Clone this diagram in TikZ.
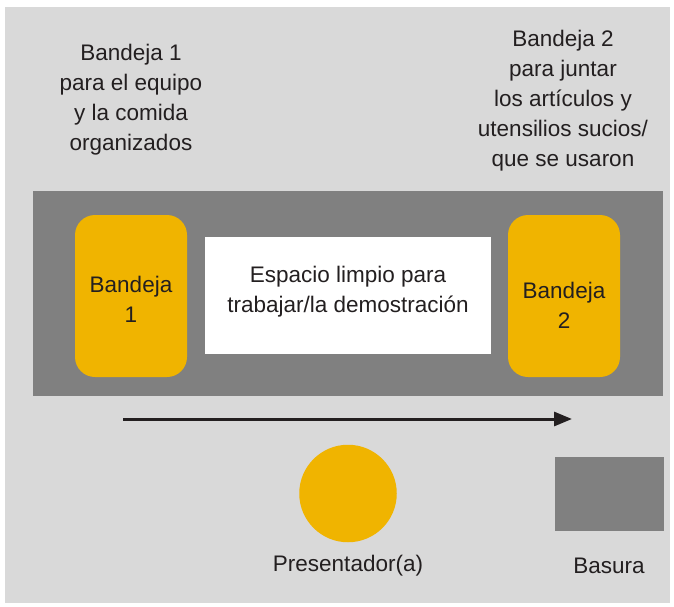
\documentclass[tikz,border=0pt]{standalone}
\usepackage{fontspec}
\setmainfont{Liberation Sans}
\usetikzlibrary{arrows.meta}
\definecolor{bglight}{HTML}{D9D9D9}
\definecolor{banddark}{HTML}{808080}
\definecolor{trayyellow}{HTML}{F0B400}
\definecolor{inktext}{HTML}{231F20}
\tikzset{
  txt/.style={text=inktext, align=center, inner sep=0pt, font=\fontsize{22.5}{30}\selectfont},
  tray/.style={fill=trayyellow, draw=none, rounded corners=20pt, minimum width=112pt, minimum height=162pt, inner sep=0pt},
  flowarrow/.style={draw=inktext, line width=3pt, -{Triangle[length=18pt,width=14pt]}}
}
\begin{document}
\begin{tikzpicture}[x=1pt,y=-1pt]
\useasboundingbox (0,0) rectangle (674,607);
\fill[white] (0,0) rectangle (674,607);
\fill[bglight] (4.5,7) rectangle (670,603);
\fill[banddark] (33,191) rectangle (663,396);
\node[tray] (tray1) at (131,296) {};
\node[tray] (tray2) at (564,296) {};
\node[fill=white, minimum width=286pt, minimum height=117pt, inner sep=0pt] (work) at (348,295.5) {};
\node[txt] (tray1txt) at (131,299) {Bandeja\\1};
\node[txt] (tray2txt) at (564,305) {Bandeja\\2};
\node[txt] (worktxt) at (348,292) {Espacio limpio para\\trabajar/la demostración};
\node[txt] (lefttxt) at (131,100) {Bandeja 1\\para el equipo\\y la comida\\organizados};
\node[txt] (righttxt) at (563,101) {Bandeja 2\\para juntar\\los artículos y\\utensilios sucios/\\que se usaron};
\coordinate (arrstart) at (123,419);
\coordinate (arrend) at (572,419);
\draw[flowarrow] (arrstart) -- (arrend);
\node[circle, fill=trayyellow, minimum size=97.5pt, inner sep=0pt] (presenter) at (348,493.5) {};
\node[fill=banddark, minimum width=109pt, minimum height=74pt, inner sep=0pt] (trash) at (609.5,494) {};
\node[txt] (presentertxt) at (348,566) {Presentador(a)};
\node[txt] (trashtxt) at (609,566) {Basura};
\end{tikzpicture}
\end{document}
